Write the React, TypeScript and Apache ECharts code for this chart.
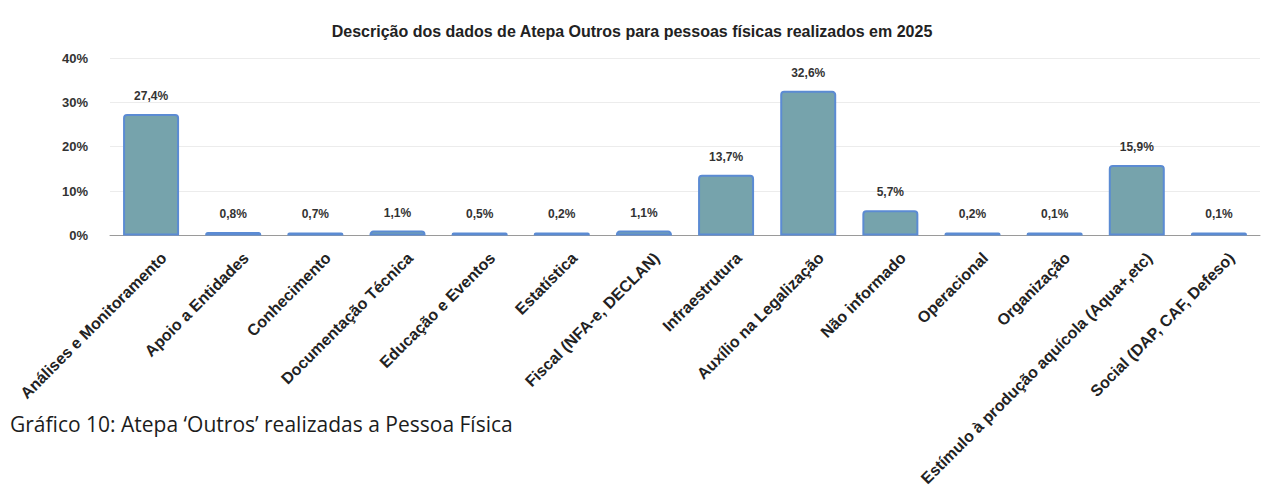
import React, { useEffect, useRef } from "react";
import * as echarts from "echarts";

const titleText = "Descrição dos dados de Atepa Outros para pessoas físicas realizados em 2025";
const captionText = "Gráfico 10: Atepa ‘Outros’ realizadas a Pessoa Física";

const categories = [
  "Análises e Monitoramento",
  "Apoio a Entidades",
  "Conhecimento",
  "Documentação Técnica",
  "Educação e Eventos",
  "Estatística",
  "Fiscal (NFA-e, DECLAN)",
  "Infraestrutura",
  "Auxílio na Legalização",
  "Não informado",
  "Operacional",
  "Organização",
  "Estímulo à produção aquícola (Aqua+,etc)",
  "Social (DAP, CAF, Defeso)",
];

const percentValues = [27.4, 0.8, 0.7, 1.1, 0.5, 0.2, 1.1, 13.7, 32.6, 5.7, 0.2, 0.1, 15.9, 0.1];

const yTicks = [0, 10, 20, 30, 40];

const fmt = (v: number) => v.toFixed(1).replace(".", ",") + "%";

export default function App() {
  const ref = useRef<HTMLDivElement>(null);

  useEffect(() => {
    if (!ref.current) return;
    const chart = echarts.init(ref.current, null, { renderer: "svg" });
    chart.setOption({
      animation: false,
      backgroundColor: "#ffffff",
      title: {
        text: titleText,
        left: "center",
        top: 23,
        padding: 0,
        textStyle: {
          fontFamily: "Liberation Sans, Arial, sans-serif",
          fontSize: 16,
          fontWeight: "bold",
          color: "#222222",
        },
      },
      graphic: [
        {
          type: "text",
          left: 10,
          top: 413,
          style: {
            text: captionText,
            font: "21px 'Open Sans', sans-serif",
            fill: "#1c1c1c",
          },
        },
      ],
      grid: { left: 110, right: 4, top: 58, bottom: 247, containLabel: false },
      xAxis: {
        type: "category",
        data: categories,
        axisTick: { show: false },
        axisLine: { show: true, lineStyle: { color: "#9a9a9a", width: 1 } },
        axisLabel: {
          interval: 0,
          rotate: 45,
          align: "right",
          verticalAlign: "top",
          padding: [10, 0, 0, 0],
          margin: 7,
          fontFamily: "Liberation Sans, Arial, sans-serif",
          fontSize: 16,
          fontWeight: "bold",
          color: "#222222",
        },
      },
      yAxis: {
        type: "value",
        min: yTicks[0],
        max: yTicks[yTicks.length - 1],
        interval: 10,
        axisLine: { show: false },
        axisTick: { show: false },
        splitLine: { lineStyle: { color: "#ececec", width: 1 } },
        axisLabel: {
          margin: 22,
          formatter: (v: number) => v + "%",
          fontFamily: "Liberation Sans, Arial, sans-serif",
          fontSize: 13,
          fontWeight: "bold",
          color: "#333333",
        },
      },
      series: [
        {
          type: "bar",
          data: percentValues,
          barWidth: 56,
          barMinHeight: 3,
          itemStyle: {
            color: "#76a3ac",
            borderColor: "#5b8bd3",
            borderWidth: 2,
            borderRadius: [3, 3, 0, 0],
          },
          label: {
            show: true,
            position: "top",
            distance: 12,
            formatter: (p: any) => fmt(p.value),
            fontFamily: "Liberation Sans, Arial, sans-serif",
            fontSize: 12,
            fontWeight: "bold",
            color: "#333333",
          },
        },
      ],
    });
    return () => chart.dispose();
  }, []);

  return (
    <div
      ref={ref}
      style={{ position: "fixed", left: 0, top: 0, width: 1264, height: 489, background: "#fff" }}
    />
  );
}
